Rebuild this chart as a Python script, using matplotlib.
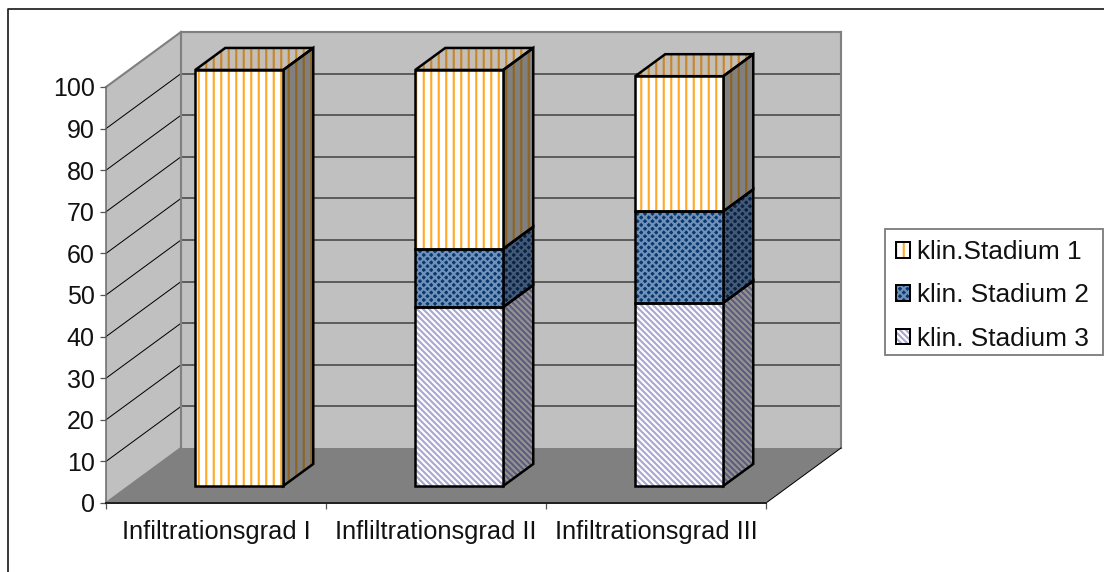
import matplotlib
matplotlib.use("Agg")
from matplotlib import pyplot as plt
from matplotlib.lines import Line2D
from matplotlib.patches import Polygon, Patch, Rectangle
from matplotlib.legend_handler import HandlerTuple

categories = ["Infiltrationsgrad I", "Infliltrationsgrad II", "Infiltrationsgrad III"]
stadium_3 = [0, 43, 44]
stadium_2 = [0, 14, 22]
stadium_1 = [100, 43, 32.5]
series_names = ["klin.Stadium 1", "klin. Stadium 2", "klin. Stadium 3"]
y_ticks = list(range(0, 101, 10))

W, H = 1104, 572
DPI = 90
# depth of the 3d box, in data units
DEPTH_X = 75 / 220
DEPTH_Y = 55 / 4.16
BAR_WIDTH = 0.4
BAR_FRONT = 0.31
BAR_BACK = 0.71

plt.rcParams["font.family"] = ["Liberation Sans", "DejaVu Sans"]
plt.rcParams["hatch.linewidth"] = 1.7

# (face, hatch colour, hatch) for front / top / side of each series
DIAG = "\\" * 5
STYLE_1 = {"front": ("#ffffff", "#ffa92a", "||"), "top": ("#c4c0b8", "#c8862c", "||"), "side": ("#808080", "#8f6420", "||")}
STYLE_2 = {"front": ("#08386e", "#7092ba", "xxxx"), "top": ("#0a3a66", "#7f8fa6", "xxxx"), "side": ("#08233f", "#44597a", "xxxx")}
STYLE_3 = {"front": ("#ffffff", "#a8a8d2", DIAG), "top": ("#bfbfbf", "#777799", DIAG), "side": ("#949494", "#5c5c80", DIAG)}

fig = plt.figure(figsize=(W / DPI, H / DPI), dpi=DPI)
ax = fig.add_axes([106 / W, (H - 503) / H, 660 / W, 416 / H])
ax.set_xlim(0, 3)
ax.set_ylim(0, 100)
ax.patch.set_visible(False)


def proj(x, y, d):
    return (x + d * DEPTH_X, y + d * DEPTH_Y)


def face(points, color):
    ax.add_patch(Polygon(points, closed=True, facecolor=color, edgecolor=color, linewidth=0, clip_on=False, zorder=1))


def hatched(points, style, z):
    fc, hc, hatch = style
    ax.add_patch(Polygon(points, closed=True, facecolor=fc, edgecolor=hc, hatch=hatch, linewidth=0, clip_on=False, zorder=z))
    ax.add_patch(Polygon(points, closed=True, fill=False, edgecolor="black", linewidth=2.0, joinstyle="miter", clip_on=False, zorder=z + 0.5))


# walls and floor
face([proj(0, 0, 0), proj(0, 100, 0), proj(0, 100, 1), proj(0, 0, 1)], "#c0c0c0")
face([proj(0, 0, 1), proj(0, 100, 1), proj(3, 100, 1), proj(3, 0, 1)], "#c0c0c0")
face([proj(0, 0, 0), proj(3, 0, 0), proj(3, 0, 1), proj(0, 0, 1)], "#808080")

for t in y_ticks[1:-1]:
    ax.plot(*zip(proj(0, t, 0), proj(0, t, 1)), color="black", lw=0.8, clip_on=False, zorder=2)
    ax.plot(*zip(proj(0, t, 1), proj(3, t, 1)), color="#5e5e5e", lw=1.6, clip_on=False, zorder=2)

# wall outlines
for a, b in [(proj(0, 0, 1), proj(0, 100, 1)), (proj(0, 100, 0), proj(0, 100, 1)),
             (proj(0, 100, 1), proj(3, 100, 1)), (proj(3, 100, 1), proj(3, 0, 1)),
             (proj(0, 0, 0), proj(0, 0, 1))]:
    ax.plot(*zip(a, b), color="#808080", lw=1.7, clip_on=False, zorder=2.5)
ax.plot(*zip(proj(3, 0, 0), proj(3, 0, 1)), color="black", lw=0.8, clip_on=False, zorder=2.5)

# stacked bars, bottom segment first, only the top one shows its lid
for i in range(len(categories)):
    x0 = i + 0.5 - BAR_WIDTH / 2
    x1 = i + 0.5 + BAR_WIDTH / 2
    base = 0
    for vals, style, is_top in [(stadium_3, STYLE_3, False), (stadium_2, STYLE_2, False), (stadium_1, STYLE_1, True)]:
        top = base + vals[i]
        if vals[i] > 0:
            hatched([proj(x1, base, BAR_FRONT), proj(x1, base, BAR_BACK), proj(x1, top, BAR_BACK), proj(x1, top, BAR_FRONT)], style["side"], 3)
            if is_top:
                hatched([proj(x0, top, BAR_FRONT), proj(x1, top, BAR_FRONT), proj(x1, top, BAR_BACK), proj(x0, top, BAR_BACK)], style["top"], 3)
            hatched([proj(x0, base, BAR_FRONT), proj(x1, base, BAR_FRONT), proj(x1, top, BAR_FRONT), proj(x0, top, BAR_FRONT)], style["front"], 4)
        base = top

# axes
for s in ["top", "right"]:
    ax.spines[s].set_visible(False)
ax.spines["left"].set_color("#666666")
ax.spines["left"].set_linewidth(1.2)
ax.spines["bottom"].set_color("#222222")
ax.spines["bottom"].set_linewidth(1.6)
ax.spines["left"].set_zorder(5)
ax.spines["bottom"].set_zorder(5)
ax.set_yticks(y_ticks)
ax.set_xticks([0, 1, 2, 3])
ax.set_xticklabels([])
ax.tick_params(axis="y", length=4.5, width=1, color="#555555", labelsize=20, pad=4.5, labelcolor="#111111")
ax.tick_params(axis="x", length=4.5, width=1, color="#555555")
for i, name in enumerate(categories):
    ax.text(i + 0.5, -4.0, name, ha="center", va="top", fontsize=20.3, color="#111111", clip_on=False)

# legend frame is a separate box, the legend only places swatches and text
fig.add_artist(Rectangle((885 / W, (H - 355) / H), 218 / W, 126 / H, transform=fig.transFigure,
                         facecolor="white", edgecolor="#808080", linewidth=1.5))
handles = []
for style in [STYLE_1, STYLE_2, STYLE_3]:
    fc, hc, hatch = style["front"]
    handles.append((Patch(facecolor=fc, edgecolor=hc, hatch=hatch, linewidth=0),
                    Patch(fill=False, edgecolor="black", linewidth=1.6)))
leg = fig.legend(handles, series_names, handler_map={tuple: HandlerTuple(ndivide=1, pad=0)},
                 loc="upper left", bbox_to_anchor=(896 / W, (H - 240) / H), bbox_transform=fig.transFigure,
                 fontsize=21, frameon=False,
                 handlelength=0.55, handleheight=0.55, handletextpad=0.26, labelspacing=0.74,
                 borderpad=0, borderaxespad=0)
for t in leg.get_texts():
    t.set_color("#111111")

# chart area border, only left and top show
fig.add_artist(Line2D([7.5 / W, 7.5 / W, 1], [0, (H - 8.5) / H, (H - 8.5) / H], color="#222222", lw=1.4))

fig.savefig("out.png", dpi=DPI, facecolor="white")
